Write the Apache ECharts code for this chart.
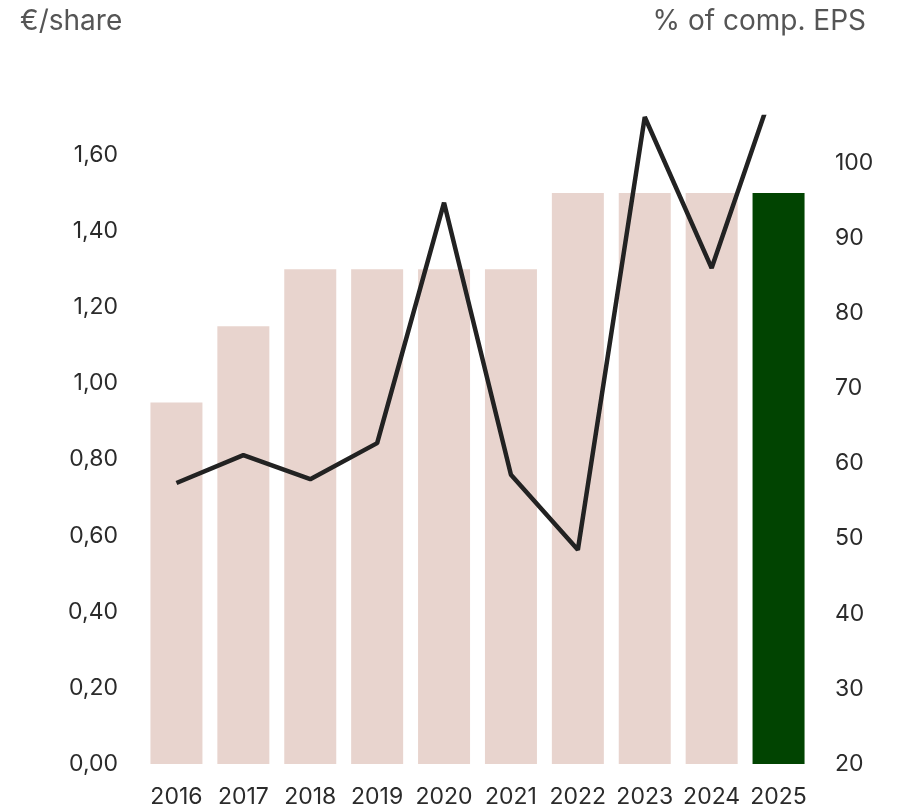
<!DOCTYPE html>
<html>
<head>
<meta charset="utf-8">
<style>
  html, body { margin: 0; padding: 0; background: #fff; }
  #chart { width: 897px; height: 811px; }
</style>
<script src="https://cdn.jsdelivr.net/npm/echarts@6/dist/echarts.min.js"></script>
</head>
<body>
<div id="chart"></div>
<script>
// data
const years = ['2016', '2017', '2018', '2019', '2020', '2021', '2022', '2023', '2024', '2025']
const dividend = [0.95, 1.15, 1.30, 1.30, 1.30, 1.30, 1.50, 1.50, 1.50, 1.50]
const payoutRatio = [57.4, 61.1, 57.9, 62.7, 94.7, 58.5, 48.5, 106.1, 86.0, 112.0]
const highlightYear = '2025'

const barColor = '#e8d4ce'
const highlightColor = '#014401'
const textColor = '#2b2b2b'

const chart = echarts.init(document.getElementById('chart'))

chart.setOption({
  animation: false,
  textStyle: { fontFamily: 'Inter' },
  title: [
    {
      text: '€/share',
      left: 15,
      top: 3,
      textStyle: { fontFamily: 'Inter', fontSize: 28, fontWeight: 'normal', color: '#555' }
    },
    {
      text: '% of comp. EPS',
      right: 26,
      top: 3,
      textStyle: { fontFamily: 'Inter', fontSize: 28, fontWeight: 'normal', color: '#555' }
    }
  ],
  grid: {
    left: 143,
    right: 85,
    top: 117,
    bottom: 47
  },
  xAxis: {
    type: 'category',
    data: years,
    axisLine: { show: false },
    axisTick: { show: false },
    axisLabel: {
      color: textColor,
      fontSize: 23,
      margin: 22,
      interval: 0
    }
  },
  yAxis: [
    {
      type: 'value',
      min: 0,
      max: 1.7,
      interval: 0.2,
      splitLine: { show: false },
      axisLine: { show: false },
      axisTick: { show: false },
      axisLabel: {
        color: textColor,
        fontSize: 23,
        margin: 25,
        showMaxLabel: false,
        formatter: (v) => v.toFixed(2).replace('.', ',')
      }
    },
    {
      type: 'value',
      min: 20,
      max: 106.1,
      interval: 10,
      splitLine: { show: false },
      axisLine: { show: false },
      axisTick: { show: false },
      axisLabel: {
        color: textColor,
        fontSize: 23,
        margin: 23,
        showMaxLabel: false
      }
    }
  ],
  series: [
    {
      type: 'bar',
      barWidth: 52,
      data: dividend.map((v, i) => ({
        value: v,
        itemStyle: { color: years[i] === highlightYear ? highlightColor : barColor }
      }))
    },
    {
      type: 'line',
      yAxisIndex: 1,
      data: payoutRatio,
      symbol: 'none',
      clip: true,
      lineStyle: { color: '#222', width: 4.5 }
    }
  ]
})
</script>
</body>
</html>
